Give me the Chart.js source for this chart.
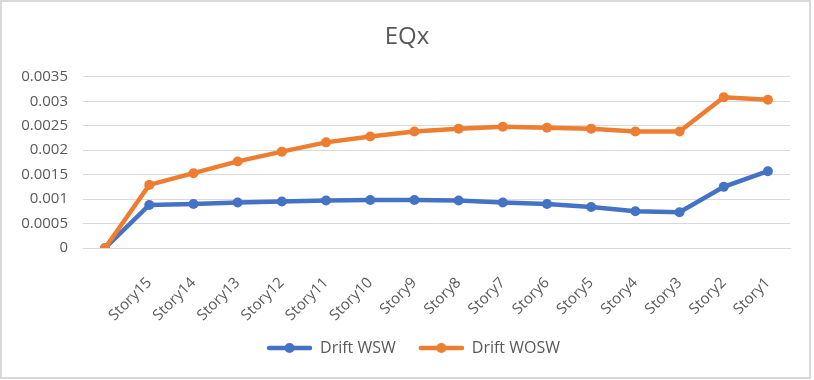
<!DOCTYPE html>
<html>
<head>
<meta charset="utf-8">
<script src="https://cdn.jsdelivr.net/npm/chart.js@4/dist/chart.umd.min.js"></script>
<style>
html,body{margin:0;padding:0;background:#fff;}
canvas{display:block;}
</style>
</head>
<body>
<canvas id="c" width="814" height="380"></canvas>
<script>
const categories = ['', 'Story15', 'Story14', 'Story13', 'Story12', 'Story11', 'Story10', 'Story9', 'Story8', 'Story7', 'Story6', 'Story5', 'Story4', 'Story3', 'Story2', 'Story1'];
const driftWSW = [0, 0.00088, 0.00090, 0.00093, 0.00095, 0.00097, 0.00098, 0.00098, 0.00097, 0.00093, 0.00090, 0.00084, 0.00075, 0.00073, 0.00125, 0.00157];
const driftWOSW = [0, 0.00129, 0.00153, 0.00177, 0.00197, 0.00216, 0.00228, 0.00238, 0.00244, 0.00248, 0.00246, 0.00244, 0.00238, 0.00238, 0.00308, 0.00303];
const yTicks = [0, 0.0005, 0.001, 0.0015, 0.002, 0.0025, 0.003, 0.0035];
const seriesNames = ['Drift WSW', 'Drift WOSW'];
const colors = ['#4472C4', '#ED7D31'];

function legendIcon(color) {
  const cv = document.createElement('canvas');
  cv.width = 58; cv.height = 12;
  const g = cv.getContext('2d');
  g.strokeStyle = color; g.lineWidth = 4.5; g.lineCap = 'round';
  g.beginPath(); g.moveTo(15, 6); g.lineTo(56, 6); g.stroke();
  g.fillStyle = color;
  g.beginPath(); g.arc(35.5, 6, 5, 0, Math.PI * 2); g.fill();
  return cv;
}

const frame = {
  id: 'frame',
  beforeDraw(chart) {
    const ctx = chart.ctx;
    ctx.save();
    ctx.fillStyle = '#fff';
    ctx.fillRect(0, 0, chart.width, chart.height);
    ctx.strokeStyle = '#d9d9d9';
    ctx.lineWidth = 2;
    ctx.strokeRect(1, 1, 809, 377);
    ctx.restore();
  }
};

const TEXT = '#595959';
new Chart(document.getElementById('c'), {
  type: 'line',
  data: {
    labels: categories,
    datasets: [
      { label: seriesNames[0], data: driftWSW, borderColor: colors[0], backgroundColor: colors[0],
        borderWidth: 4.5, pointRadius: 5, pointHoverRadius: 5, pointBorderWidth: 0, tension: 0, order: 1 },
      { label: seriesNames[1], data: driftWOSW, borderColor: colors[1], backgroundColor: colors[1],
        borderWidth: 4.5, pointRadius: 5, pointHoverRadius: 5, pointBorderWidth: 0, tension: 0, order: 0 }
    ]
  },
  options: {
    responsive: false,
    animation: false,
    layout: { padding: { left: 0, right: 0, top: 0, bottom: 14 } },
    plugins: {
      title: { display: true, text: 'EQx', color: TEXT,
        font: { family: 'Open Sans', size: 24, weight: 'normal' },
        padding: { top: 23, bottom: 25 } },
      legend: { position: 'bottom',
        labels: { color: TEXT, font: { family: 'Open Sans', size: 16 }, usePointStyle: true, pointStyleWidth: 58,
          padding: 10,
          sort: (a, b) => a.datasetIndex - b.datasetIndex,
          generateLabels(chart) {
            const items = Chart.defaults.plugins.legend.labels.generateLabels(chart);
            items.forEach(it => { it.pointStyle = legendIcon(colors[it.datasetIndex]); });
            return items;
          } } },
      tooltip: { enabled: false }
    },
    scales: {
      x: {
        offset: true,
        grid: { display: false },
        border: { display: true, color: '#d9d9d9' },
        ticks: { color: TEXT, font: { family: 'Open Sans', size: 15 }, minRotation: 45, maxRotation: 45, padding: 18 },
        afterFit(s) { s.height = 82; }
      },
      y: {
        min: 0, max: 0.0035,
        afterBuildTicks(s) { s.ticks = yTicks.map(v => ({ value: v })); },
        grid: { color: '#d9d9d9', lineWidth: 1, drawTicks: false },
        border: { display: false },
        ticks: { color: TEXT, font: { family: 'Open Sans', size: 15 }, padding: 15,
          callback: v => String(+v.toFixed(4)) },
        afterFit(s) { s.width = 83; }
      },
      yRight: {
        position: 'right',
        min: 0, max: 1,
        grid: { display: false, drawTicks: false },
        border: { display: false },
        ticks: { display: false },
        afterFit(s) { s.width = 24; }
      }
    }
  },
  plugins: [frame]
});
</script>
</body>
</html>
